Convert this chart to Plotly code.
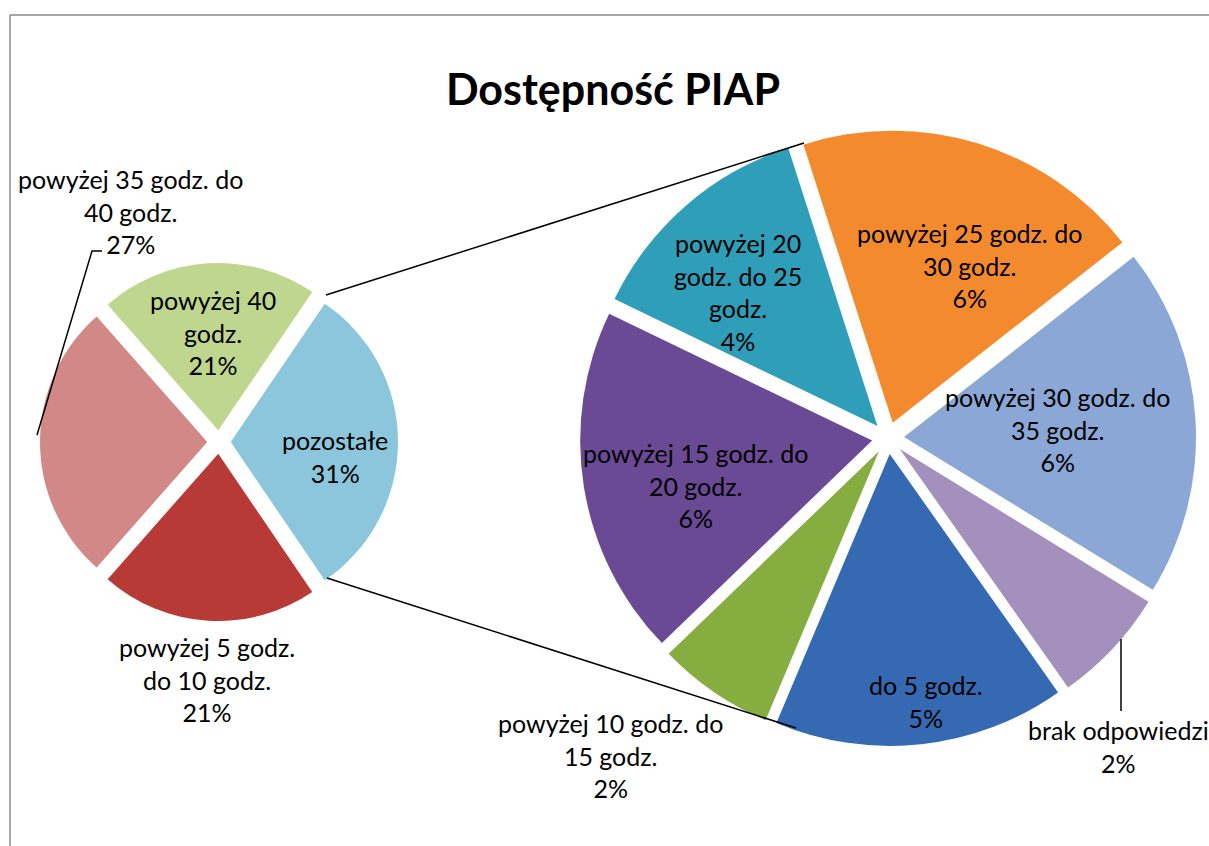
import plotly.graph_objects as go

W, H = 1209, 846
FONT = "Lato"
LABEL_SIZE = 25

# ---------------- data ----------------
title = "Dostępność PIAP"

main_labels = ["powyżej 40 godz.", "pozostałe", "powyżej 5 godz. do 10 godz.", "powyżej 35 godz. do 40 godz."]
main_values = [21, 31, 21, 27]
main_colors = ["#BFD68E", "#8CC6DC", "#B83A36", "#D28886"]
# label text as wrapped on the chart
main_text = ["powyżej 40<br>godz.", "pozostałe", "powyżej 5 godz.<br>do 10 godz.", "powyżej 35 godz. do<br>40 godz."]

sub_labels = ["powyżej 25 godz. do 30 godz.", "powyżej 30 godz. do 35 godz.", "brak odpowiedzi",
              "do 5 godz.", "powyżej 10 godz. do 15 godz.", "powyżej 15 godz. do 20 godz.",
              "powyżej 20 godz. do 25 godz."]
sub_values = [6, 6, 2, 5, 2, 6, 4]
sub_colors = ["#F38B2E", "#8AA7D5", "#A390BD", "#3569B1", "#86AD3F", "#6A4A94", "#2F9EB8"]
sub_text = ["powyżej 25 godz. do<br>30 godz.", "powyżej 30 godz. do<br>35 godz.", "brak odpowiedzi",
            "do 5 godz.", "powyżej 10 godz. do<br>15 godz.", "powyżej 15 godz. do<br>20 godz.",
            "powyżej 20<br>godz. do 25<br>godz."]

# ---------------- layout helpers (pixel -> paper) ----------------
def px(x):
    return x / W


def py(y):
    return 1 - y / H


# label block centres (pixels)
main_label_pos = [(213, 333), (335, 456), (207, 679), (130, 212)]
sub_label_pos = [(969, 265), (1057, 430), (1118, 746), (926, 701), (610, 755), (695, 485), (738, 292)]

fig = go.Figure()

fig.add_trace(go.Pie(
    labels=main_labels, values=main_values, sort=False, direction="clockwise",
    rotation=-41.4, pull=[0.07] * len(main_values),
    marker=dict(colors=main_colors, line=dict(width=0)),
    textinfo="none",
    domain=dict(x=[px(40), px(398)], y=[py(621), py(263)]),
    showlegend=False, hoverinfo="label+value",
))

fig.add_trace(go.Pie(
    labels=sub_labels, values=sub_values, sort=False, direction="clockwise",
    rotation=-17.8, pull=[0.055] * len(sub_values),
    marker=dict(colors=sub_colors, line=dict(width=0)),
    textinfo="none",
    domain=dict(x=[px(580), px(1196)], y=[py(746), py(130)]),
    showlegend=False, hoverinfo="label+value",
))

total = sum(main_values)
annotations = []
for txt, val, (x, y) in list(zip(main_text, main_values, main_label_pos)) + \
        list(zip(sub_text, sub_values, sub_label_pos)):
    annotations.append(dict(
        text="%s<br>%d%%" % (txt, round(100 * val / total)),
        x=px(x), y=py(y), xref="paper", yref="paper", xanchor="center", yanchor="middle",
        showarrow=False, align="center",
        font=dict(family=FONT, size=LABEL_SIZE, color="black"),
    ))

line_style = dict(color="black", width=1.5)
shapes = [
    # chart frame
    dict(type="line", xref="paper", yref="paper", x0=px(10), y0=py(15), x1=px(1209), y1=py(15),
         line=dict(color="#8A8A8A", width=1.5)),
    dict(type="line", xref="paper", yref="paper", x0=px(10), y0=py(15), x1=px(10), y1=py(846),
         line=dict(color="#8A8A8A", width=1.5)),
    # series connector lines
    dict(type="line", xref="paper", yref="paper", x0=px(326), y0=py(295), x1=px(804), y1=py(143),
         line=line_style),
    dict(type="line", xref="paper", yref="paper", x0=px(327), y0=py(578), x1=px(796), y1=py(728),
         line=line_style),
    # leader lines
    dict(type="path", xref="paper", yref="paper",
         path="M %f %f L %f %f L %f %f" % (px(102), py(251), px(92), py(251), px(37), py(435)),
         line=line_style),
    dict(type="line", xref="paper", yref="paper", x0=px(1121), y0=py(639), x1=px(1121), y1=py(711),
         line=line_style),
]

fig.update_layout(
    width=W, height=H, margin=dict(l=0, r=0, t=0, b=0),
    paper_bgcolor="white", plot_bgcolor="white",
    title=dict(text="<b>%s</b>" % title, x=px(613), y=py(90), xanchor="center", yanchor="middle",
               font=dict(family=FONT, size=43, color="black")),
    annotations=annotations, shapes=shapes,
)

fig.write_html("out.html", config={"displayModeBar": False},
               post_script="document.body.style.margin='0';document.body.style.overflow='hidden';")
